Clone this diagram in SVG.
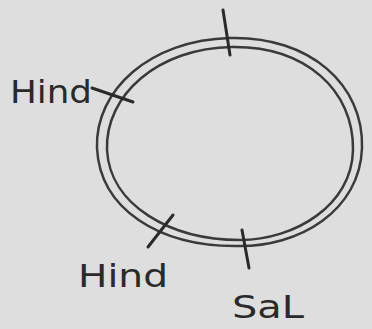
<svg xmlns="http://www.w3.org/2000/svg" width="372" height="329" viewBox="0 0 372 329">
<style>
.ring{fill:none;stroke:#3a3a3a;stroke-width:2.5}
.tick{stroke:#2a2a2a;stroke-width:3;stroke-linecap:round}
.lbl{font-family:"DejaVu Sans",sans-serif;font-size:32px;fill:#2a2a2a}
</style>
<rect width="372" height="329" fill="#dedede"/>
<g id="connectors">
<path class="ring" d="M230,38 C310,36 364,85 362,148 C360,210 300,248 235,246 C160,246 100,210 97,148 C95,90 150,40 230,38 Z"/>
<path class="ring" d="M232,47 C305,46 354,90 353,150 C352,205 295,240 240,240 C170,240 110,205 107,150 C105,95 158,48 232,47 Z"/>
</g>
<g id="top"><line class="tick" x1="223" y1="10" x2="230" y2="55"/></g>
<g id="hind1"><line class="tick" x1="92" y1="88" x2="133" y2="102"/><text class="lbl" x="10" y="103" textLength="82" lengthAdjust="spacingAndGlyphs">Hind</text></g>
<g id="hind2"><line class="tick" x1="173" y1="215" x2="148" y2="247"/><text class="lbl" x="78" y="287" textLength="90" lengthAdjust="spacingAndGlyphs">Hind</text></g>
<g id="sal"><line class="tick" x1="242" y1="230" x2="249" y2="268"/><text class="lbl" x="232" y="318" textLength="72" lengthAdjust="spacingAndGlyphs">SaL</text></g>
</svg>
